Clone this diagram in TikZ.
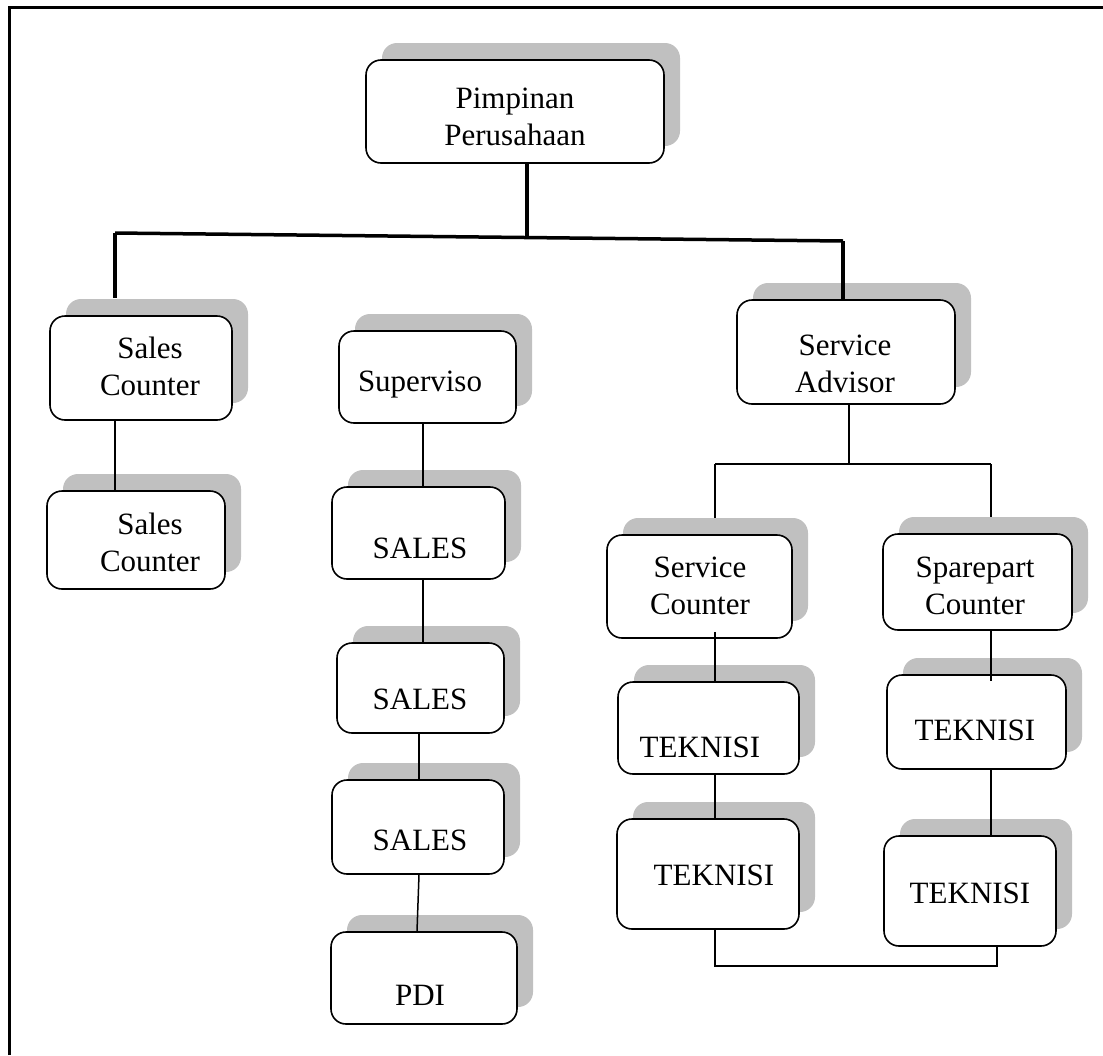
\documentclass[tikz,border=0pt]{standalone}
\usepackage{fontspec}
\setmainfont{Liberation Serif}
\usetikzlibrary{calc}
\definecolor{shd}{RGB}{192,192,192}
\tikzset{
  shadowbox/.style={fill=shd, rounded corners=15pt, draw=none},
  mainbox/.style={draw=black, fill=white, line width=1.6pt, rounded corners=15pt, inner sep=0pt},
  lbl/.style={font=\fontsize{31}{37}\selectfont, align=center, inner sep=0pt},
  thinconn/.style={line width=1.5pt},
  thickconn/.style={line width=3.5pt},
  framestyle/.style={line width=3pt},
}
% #1 name, #2 x1, #3 y1, #4 x2, #5 y2, #6 text x, #7 text y, #8 text
\newcommand{\orgbox}[8]{%
  \fill[shadowbox] ({#2+16},{#3-17}) rectangle ({#4+16},{#5-17});
  \node[mainbox, minimum width=#4-#2, minimum height=#5-#3] (#1) at ({(#2+#4)/2},{(#3+#5)/2}) {};
  \node[lbl] (#1t) at (#6,#7) {#8};
}
\begin{document}
\begin{tikzpicture}[x=1pt,y=-1pt]
\useasboundingbox (0,0) rectangle (1103,1055);
% frame
\draw[framestyle] (9,1055) -- (9,7) -- (1103,7);

% boxes
\orgbox{top}{366}{60}{664}{163}{515}{117}{Pimpinan\\Perusahaan}
\orgbox{sca}{50}{316}{232}{420}{150}{366}{Sales\\Counter}
\orgbox{scb}{47}{491}{225}{589}{150}{542}{Sales\\Counter}
\orgbox{sup}{339}{331}{516}{423}{420}{385}{Superviso}
\orgbox{saa}{332}{487}{505}{579}{420}{548}{SALES}
\orgbox{sab}{337}{643}{504}{733}{420}{699}{SALES}
\orgbox{sac}{332}{780}{504}{874}{420}{840}{SALES}
\orgbox{pdi}{331}{932}{517}{1024}{420}{995}{PDI}
\orgbox{sva}{737}{300}{955}{404}{845}{364}{Service\\Advisor}
\orgbox{svc}{607}{535}{792}{638}{700}{586}{Service\\Counter}
\orgbox{spc}{883}{534}{1072}{630}{975}{586}{Sparepart\\Counter}
\orgbox{tla}{618}{682}{799}{774}{700}{747}{TEKNISI}
\orgbox{tlb}{617}{819}{799}{929}{714}{875}{TEKNISI}
\orgbox{tra}{887}{675}{1066}{769}{975}{730}{TEKNISI}
\orgbox{trb}{884}{836}{1056}{946}{970}{893}{TEKNISI}

% thick top connectors
\coordinate (jl) at (115,233);
\coordinate (jm) at (527,237);
\coordinate (jr) at (843,241);
\draw[thickconn] (top.south -| jm) -- (jm);
\draw[thickconn] (jl) -- (jr);
\draw[thickconn] (jl) -- (115,298);
\draw[thickconn] (jr) -- ($(sva.north -| jr)+(0,2)$);

% left column
\draw[thinconn] (sca.south -| 115,0) -- (scb.north -| 115,0);
% middle column
\draw[thinconn] (sup.south -| 423,0) -- (saa.north -| 423,0);
\draw[thinconn] (saa.south -| 423,0) -- (sab.north -| 423,0);
\draw[thinconn] (sab.south -| 419,0) -- (sac.north -| 419,0);
\draw[thinconn] (sac.south -| 419,0) -- (pdi.north -| 417,0);
% right branch
\coordinate (ba) at (849,464);
\coordinate (bl) at (715,464);
\coordinate (br) at (991,464);
\draw[thinconn] (sva.south -| ba) -- (ba);
\draw[thinconn] (bl) -- (br);
\draw[thinconn] (bl) -- (715,518);
\draw[thinconn] (br) -- (991,517);
\draw[thinconn] ($(svc.south -| bl)+(0,-7)$) -- (tla.north -| bl);
\draw[thinconn] (tla.south -| bl) -- (tlb.north -| bl);
\draw[thinconn] (spc.south -| br) -- ($(tra.north -| br)+(0,7)$);
\draw[thinconn] (tra.south -| br) -- (trb.north -| br);
% bottom bracket
\coordinate (ql) at (715,966);
\coordinate (qr) at (997,966);
\draw[line width=2pt] (tlb.south -| ql) -- (ql) -- (qr) -- (trb.south -| qr);
\end{tikzpicture}
\end{document}
